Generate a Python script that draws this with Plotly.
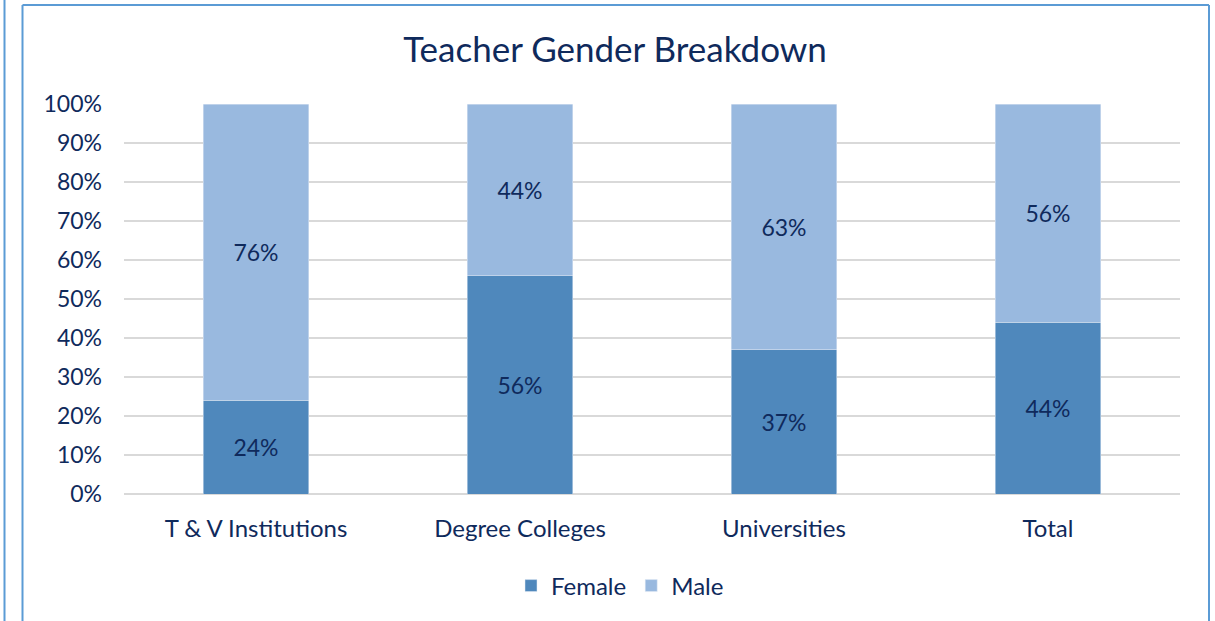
import plotly.graph_objects as go

categories = ["T & V Institutions", "Degree Colleges", "Universities", "Total"]
female = [24, 56, 37, 44]
male = [76, 44, 63, 56]
y_ticks = [0, 10, 20, 30, 40, 50, 60, 70, 80, 90, 100]
y_tick_labels = [f"{v}%" for v in y_ticks]

TEXT = "#0F2A5C"
FONT = "Lato"

fig = go.Figure()
fig.add_trace(go.Bar(
    name="Female", x=categories, y=female, marker_color="#4F88BC",
    text=[f"{v}%" for v in female], textposition="inside", insidetextanchor="middle",
    textfont=dict(color=TEXT, size=23, family=FONT),
))
fig.add_trace(go.Bar(
    name="Male", x=categories, y=male, marker_color="#99B9DF",
    text=[f"{v}%" for v in male], textposition="inside", insidetextanchor="middle",
    textfont=dict(color=TEXT, size=23, family=FONT),
))

W, H = 1215, 621
# plot area in page pixels: x 124..1180, y 104..494
L, T = 124, 104
R, B = W - 1180, H - 494
pw, ph = W - L - R, H - T - B

def px_x(p):
    return (p - L) / pw

def px_y(p):
    return (H - B - p) / ph

fig.update_layout(
    barmode="stack",
    bargap=0.6,
    width=W, height=H,
    margin=dict(l=L, r=R, t=T, b=B),
    paper_bgcolor="white",
    plot_bgcolor="white",
    font=dict(family=FONT, color=TEXT, size=22),
    title=dict(text="Teacher Gender Breakdown", x=px_x(615), xref="paper", xanchor="center",
               y=(H - 50) / H, yanchor="middle",
               font=dict(size=35, color=TEXT, family=FONT)),
    legend=dict(orientation="h", x=px_x(620), xanchor="center", y=px_y(586), yanchor="middle",
                font=dict(size=24, color=TEXT, family=FONT), traceorder="normal",
                itemwidth=30),
    showlegend=True,
    uniformtext=dict(mode="show", minsize=10),
)
fig.update_yaxes(
    range=[0, 100], tickvals=y_ticks, ticktext=y_tick_labels,
    showgrid=True, gridcolor="#D9D9D9", gridwidth=1.5,
    zeroline=True, zerolinecolor="#D9D9D9", zerolinewidth=1.5,
    ticks="", ticklabelstandoff=21, tickfont=dict(size=23, color=TEXT, family=FONT),
)
fig.update_xaxes(
    showgrid=False, ticks="", ticklabelstandoff=18,
    tickfont=dict(size=24, color=TEXT, family=FONT),
)

# Frame lines visible in the reference
BORDER = dict(color="#5B9BD5", width=2)
fig.add_shape(type="line", xref="paper", yref="paper",
              x0=px_x(22.5), x1=px_x(22.5), y0=px_y(625), y1=px_y(5), line=BORDER)
fig.add_shape(type="line", xref="paper", yref="paper",
              x0=px_x(22.5), x1=px_x(1209), y0=px_y(5), y1=px_y(5), line=BORDER)
fig.add_shape(type="line", xref="paper", yref="paper",
              x0=px_x(1209), x1=px_x(1209), y0=px_y(625), y1=px_y(5), line=BORDER)
fig.add_shape(type="line", xref="paper", yref="paper",
              x0=px_x(4.5), x1=px_x(4.5), y0=px_y(625), y1=px_y(0), line=BORDER)

fig.write_html("out.html", config={"displayModeBar": False},
               post_script="document.body.style.margin='0';")
